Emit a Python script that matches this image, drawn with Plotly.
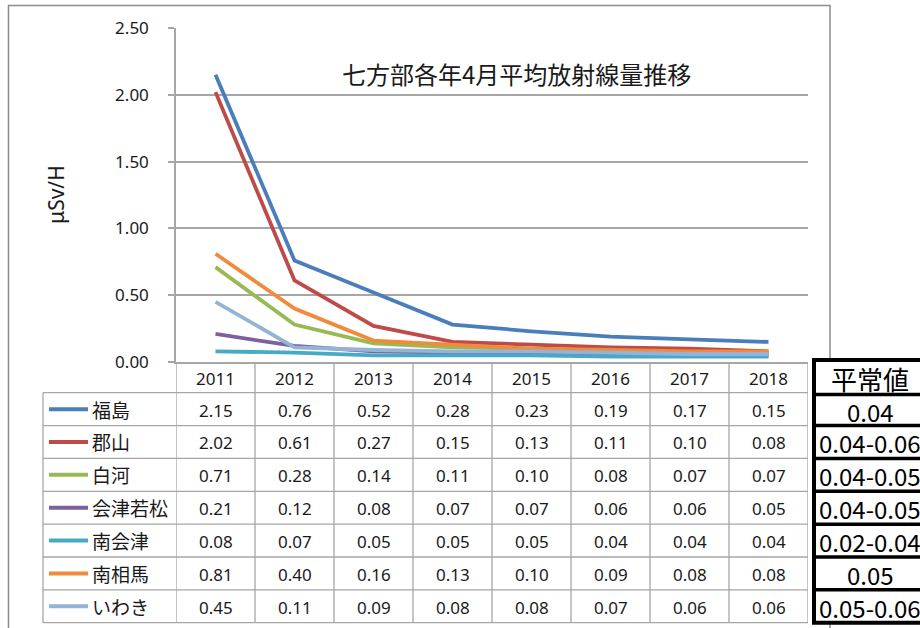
import plotly.graph_objects as go

# April average air dose rate per year for seven districts (μSv/h)
years = ["2011", "2012", "2013", "2014", "2015", "2016", "2017", "2018"]
districts = ["福島", "郡山", "白河", "会津若松", "南会津", "南相馬", "いわき"]
fukushima = [2.15, 0.76, 0.52, 0.28, 0.23, 0.19, 0.17, 0.15]
koriyama = [2.02, 0.61, 0.27, 0.15, 0.13, 0.11, 0.10, 0.08]
shirakawa = [0.71, 0.28, 0.14, 0.11, 0.10, 0.08, 0.07, 0.07]
aizuwakamatsu = [0.21, 0.12, 0.08, 0.07, 0.07, 0.06, 0.06, 0.05]
minamiaizu = [0.08, 0.07, 0.05, 0.05, 0.05, 0.04, 0.04, 0.04]
minamisoma = [0.81, 0.40, 0.16, 0.13, 0.10, 0.09, 0.08, 0.08]
iwaki = [0.45, 0.11, 0.09, 0.08, 0.08, 0.07, 0.06, 0.06]
normal_header = "平常値"
normal_levels = ["0.04", "0.04-0.06", "0.04-0.05", "0.04-0.05", "0.02-0.04", "0.05", "0.05-0.06"]

series = [fukushima, koriyama, shirakawa, aizuwakamatsu, minamiaizu, minamisoma, iwaki]
colors = ["#4A7EBB", "#BE4B48", "#98B954", "#7D60A0", "#46AAC5", "#F08A3C", "#95B3D7"]

W, H = 920, 628


def px(x):
    return x / W


def py(y):
    return 1 - y / H


# plot area in pixels
PL, PR, PT, PB = 176, 808, 28, 362
# data table rows
HEAD_BOTTOM = 392.7
ROW_H = 32.86
TABLE_LEFT = 43
GRID = "#A6A6A6"
TXT = "#1a1a1a"
NUM_FONT = "Noto Sans"

fig = go.Figure()
for name, vals, col in zip(districts, series, colors):
    fig.add_trace(go.Scatter(x=years, y=vals, mode="lines", name=name,
                             line=dict(color=col, width=3.8), showlegend=False,
                             hoverinfo="x+y+name"))

shapes = []
annotations = []


def label(x, y, text, size, family, xref="paper", xanchor="center", color=TXT, **kw):
    annotations.append(dict(x=x, xref=xref, y=y, yref="paper", text=text,
                            showarrow=False, xanchor=xanchor, yanchor="middle",
                            font=dict(family=family, size=size, color=color), **kw))


# outer chart frame
shapes.append(dict(type="rect", xref="paper", yref="paper",
                   x0=px(8.5), x1=px(830), y0=py(5.5), y1=py(660),
                   line=dict(color="#8C8C8C", width=1.5), layer="below"))

# data table: horizontal rules
for i in range(len(districts) + 1):
    yy = HEAD_BOTTOM + ROW_H * i
    shapes.append(dict(type="line", xref="paper", yref="paper",
                       x0=px(TABLE_LEFT), x1=px(PR), y0=py(yy), y1=py(yy),
                       line=dict(color=GRID, width=1.3)))
table_bottom = HEAD_BOTTOM + ROW_H * len(districts)
# vertical rules between year columns (on the category scale)
for k in range(len(years) + 1):
    shapes.append(dict(type="line", xref="x", yref="paper",
                       x0=k - 0.5, x1=k - 0.5, y0=py(PB), y1=py(table_bottom),
                       line=dict(color=GRID, width=1.3)))
# left edge of the legend column
shapes.append(dict(type="line", xref="paper", yref="paper",
                   x0=px(TABLE_LEFT), x1=px(TABLE_LEFT),
                   y0=py(HEAD_BOTTOM), y1=py(table_bottom),
                   line=dict(color=GRID, width=1.3)))

# header row: years
for k, yr in enumerate(years):
    label(k, py((PB + HEAD_BOTTOM) / 2 + 1), yr, 17, NUM_FONT, xref="x")

# rows: legend key, name and values
for i, (name, vals, col) in enumerate(zip(districts, series, colors)):
    yc = HEAD_BOTTOM + ROW_H * (i + 0.5)
    shapes.append(dict(type="line", xref="paper", yref="paper",
                       x0=px(49), x1=px(88), y0=py(yc), y1=py(yc),
                       line=dict(color=col, width=4)))
    label(px(90), py(yc), name, 19, "Noto Sans CJK JP", xanchor="left")
    for k, v in enumerate(vals):
        label(k, py(yc + 1), f"{v:.2f}", 17, NUM_FONT, xref="x")

# normal background level box on the right
BOX_L, BOX_R, BOX_T = 814, 935, 360
box_rows = [BOX_T, 394.5] + [HEAD_BOTTOM + ROW_H * (i + 1) for i in range(len(normal_levels))]
shapes.append(dict(type="rect", xref="paper", yref="paper",
                   x0=px(BOX_L), x1=px(BOX_R), y0=py(BOX_T), y1=py(box_rows[-1]),
                   fillcolor="white", line=dict(color="black", width=4)))
for yy in box_rows[1:-1]:
    shapes.append(dict(type="line", xref="paper", yref="paper",
                       x0=px(BOX_L), x1=px(BOX_R), y0=py(yy), y1=py(yy),
                       line=dict(color="black", width=3.5)))
box_texts = [normal_header] + normal_levels
for i, t in enumerate(box_texts):
    yc = (box_rows[i] + box_rows[i + 1]) / 2
    size = 26 if i == 0 else 24
    label(px(870), py(yc + 1), t, size, "Noto Sans CJK JP", color="black")

# title and y-axis label
label(px(516), py(73), "七方部各年4月平均放射線量推移", 24, "Noto Sans CJK JP")
label(px(56), py(195), "μSv/H", 21, NUM_FONT, textangle=-90)

fig.update_layout(
    width=W, height=H, autosize=False,
    margin=dict(l=0, r=0, t=0, b=0, pad=0),
    paper_bgcolor="white", plot_bgcolor="white",
    showlegend=False,
    shapes=shapes, annotations=annotations,
    xaxis=dict(domain=[px(PL), px(PR)], type="category", range=[-0.5, len(years) - 0.5],
               showticklabels=False, showgrid=False, zeroline=False, automargin=False,
               showline=True, linecolor=GRID, linewidth=1.5, ticks=""),
    yaxis=dict(domain=[py(PB), py(PT)], range=[0, 2.5], dtick=0.5, tickformat=".2f",
               showgrid=True, gridcolor=GRID, gridwidth=1.5, zeroline=False,
               automargin=False,
               showline=True, linecolor=GRID, linewidth=1.5,
               ticks="outside", ticklen=6, tickcolor=GRID, tickwidth=1.5,
               ticklabelstandoff=16,
               tickfont=dict(family=NUM_FONT, size=17, color=TXT)),
)

fig.write_html("out.html")
